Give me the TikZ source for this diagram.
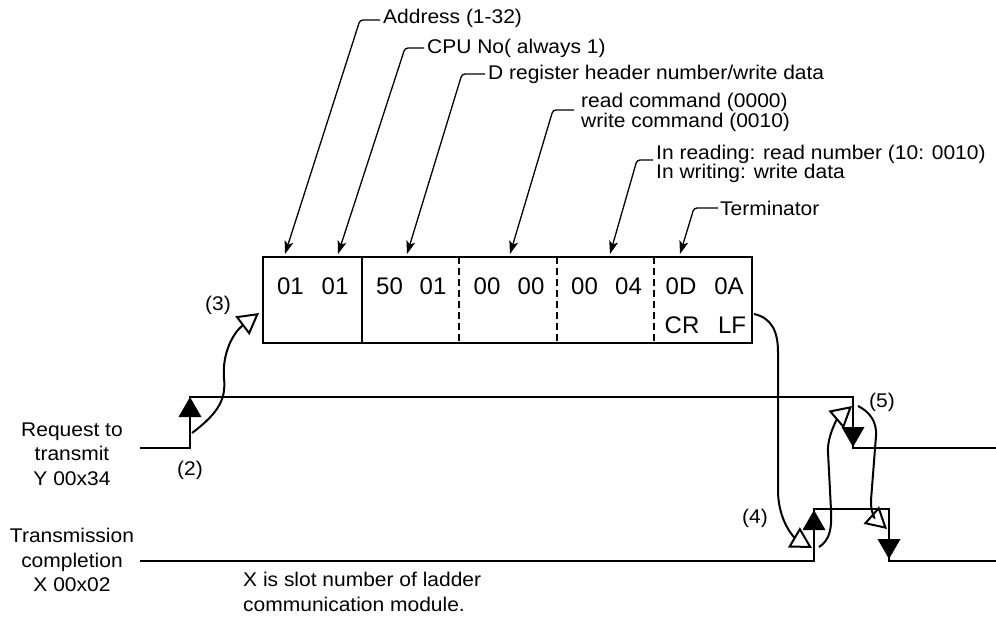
\documentclass[tikz,border=0pt]{standalone}
\usepackage{fontspec}
\setmainfont{Liberation Sans}[FakeStretch=1.06]
\newfontfamily\cellfont{Liberation Sans}
\usetikzlibrary{arrows.meta}
\begin{document}
\begin{tikzpicture}[x=1pt,y=-1pt,
  lbl/.style={font=\fontsize{19.8pt}{24.5pt}\selectfont, inner sep=0pt},
  tight/.style={font=\fontsize{19.8pt}{17pt}\selectfont, inner sep=0pt, align=left},
  cell/.style={font=\cellfont\fontsize{24pt}{28pt}\selectfont, inner sep=0pt},
  leader/.style={line width=1.3pt, rounded corners=3pt, -{Stealth[length=13pt,width=9pt,inset=3pt]}},
  wave/.style={line width=2.4pt},
  solidtip/.style={fill=black},
  flow/.style={line width=2pt,-{Triangle[open,length=21pt,width=23pt]}},
  divider/.style={line width=1.6pt},
  dashdiv/.style={line width=1.6pt, dash pattern=on 7pt off 4pt},
]
\useasboundingbox (0,0) rectangle (996,616);

% ---------- frame ----------
\node (frame) [draw, line width=2.4pt, minimum width=489pt, minimum height=86pt,
  inner sep=0pt, outer sep=0pt] at (507.5,300) {};
\coordinate (d1t) at (362,257); \coordinate (d1b) at (362,343);
\coordinate (d2t) at (459,257); \coordinate (d2b) at (459,343);
\coordinate (d3t) at (557,257); \coordinate (d3b) at (557,343);
\coordinate (d4t) at (654,257); \coordinate (d4b) at (654,343);
\draw[divider] (d1t) -- (d1b);
\draw[dashdiv] (d2t) -- (d2b);
\draw[dashdiv] (d3t) -- (d3b);
\draw[dashdiv] (d4t) -- (d4b);

\node[cell] (c1a) at (290.5,286) {01};
\node[cell] (c1b) at (335,286) {01};
\node[cell] (c2a) at (389.5,286) {50};
\node[cell] (c2b) at (433,286) {01};
\node[cell] (c3a) at (487,286) {00};
\node[cell] (c3b) at (531,286) {00};
\node[cell] (c4a) at (584.5,286) {00};
\node[cell] (c4b) at (628.5,286) {04};
\node[cell] (c5a) at (681,286) {0D};
\node[cell] (c5b) at (729,286) {0A};
\node[cell] (c5c) at (682,325) {CR};
\node[cell] (c5d) at (732,325) {LF};

% ---------- top labels ----------
\node[lbl, anchor=west] (adr) at (383,18) {Address (1-32)};
\node[lbl, anchor=west] (cpu) at (427,48) {CPU No( always 1)};
\node[lbl, anchor=west] (dreg) at (488,74) {D register header number/write data};
\node[tight, anchor=west] (cmd) at (581,112.5) {read command (0000)\\write command (0010)};
\node[tight, anchor=west, font=\fontsize{19.8pt}{15.5pt}\selectfont] (rdn) at (656,164) {In reading: read number (10: 0010)\\In writing: write data};
\node[lbl, anchor=west] (term) at (720,208) {Terminator};

\coordinate (sA) at (380,20);  \coordinate (kA) at (360,20);  \coordinate (tA) at (285,254);
\coordinate (sB) at (424,48);  \coordinate (kB) at (405,48);  \coordinate (tB) at (338,254);
\coordinate (sC) at (485,74);  \coordinate (kC) at (462,74);  \coordinate (tC) at (407,254);
\coordinate (sD) at (574,110); \coordinate (kD) at (553,110); \coordinate (tD) at (510,254);
\coordinate (sE) at (653,160); \coordinate (kE) at (637,160); \coordinate (tE) at (610,254);
\coordinate (sF) at (718,208); \coordinate (kF) at (694,208); \coordinate (tF) at (680,254);
\draw[leader] (sA) -- (kA) -- (tA);
\draw[leader] (sB) -- (kB) -- (tB);
\draw[leader] (sC) -- (kC) -- (tC);
\draw[leader] (sD) -- (kD) -- (tD);
\draw[leader] (sE) -- (kE) -- (tE);
\draw[leader] (sF) -- (kF) -- (tF);

% ---------- signal labels ----------
\node[lbl, align=center] (req) at (72,454) {Request to\\transmit\\Y 00x34};
\node[lbl, align=center] (tc) at (72,560) {Transmission\\completion\\X 00x02};
\node[lbl, align=left, anchor=west] (note) at (243,592) {X is slot number of ladder\\communication module.};

\node[lbl] (s2) at (190,470) {(2)};
\node[lbl] (s3) at (218,305) {(3)};
\node[lbl] (s4) at (755,518) {(4)};
\node[lbl] (s5) at (882,402) {(5)};

% ---------- waveforms ----------
\coordinate (r0) at (140,448); \coordinate (r1) at (190,448); \coordinate (r2) at (190,397);
\coordinate (r3) at (853,397); \coordinate (r4) at (853,448); \coordinate (r5) at (996,448);
\draw[wave] (r0) -- (r1) -- (r2) -- (r3) -- (r4) -- (r5);
\coordinate (t0) at (140,561); \coordinate (t1) at (814,561); \coordinate (t2) at (814,509);
\coordinate (t3) at (889,509); \coordinate (t4) at (889,561); \coordinate (t5) at (996,561);
\draw[wave] (t0) -- (t1) -- (t2) -- (t3) -- (t4) -- (t5);

\fill[solidtip] (r2) -- ++(-11.5,20) -- ++(23,0) -- cycle;
\fill[solidtip] (853,447) -- ++(-11.5,-20) -- ++(23,0) -- cycle;
\fill[solidtip] (t2) ++(0,1) -- ++(-11.5,20) -- ++(23,0) -- cycle;
\fill[solidtip] (889,559) -- ++(-11.5,-20) -- ++(23,0) -- cycle;

% ---------- flow arrows ----------
\coordinate (f2) at (192,433);  \coordinate (f3) at (259,313);
\coordinate (fLF) at (754,314); \coordinate (f4) at (812,548);
\coordinate (f4s) at (819,547); \coordinate (f5) at (852,406);
\coordinate (f5s) at (858,406); \coordinate (f6) at (887,529);
\draw[flow] (f2) .. controls (220,412) and (226,398) .. (224,378)
  .. controls (222,352) and (234,332) .. (f3);
\draw[flow] (fLF) .. controls (772,318) and (778,332) .. (778,352) -- (778,490)
  .. controls (778,522) and (795,538) .. (f4);
\draw[flow] (f4s) .. controls (830,540) and (832,528) .. (831,510) -- (828,452)
  .. controls (827,436) and (838,418) .. (f5);
\draw[flow] (f5s) .. controls (870,412) and (877,422) .. (876,436) -- (871,500)
  .. controls (870,514) and (878,521) .. (f6);
\end{tikzpicture}
\end{document}
